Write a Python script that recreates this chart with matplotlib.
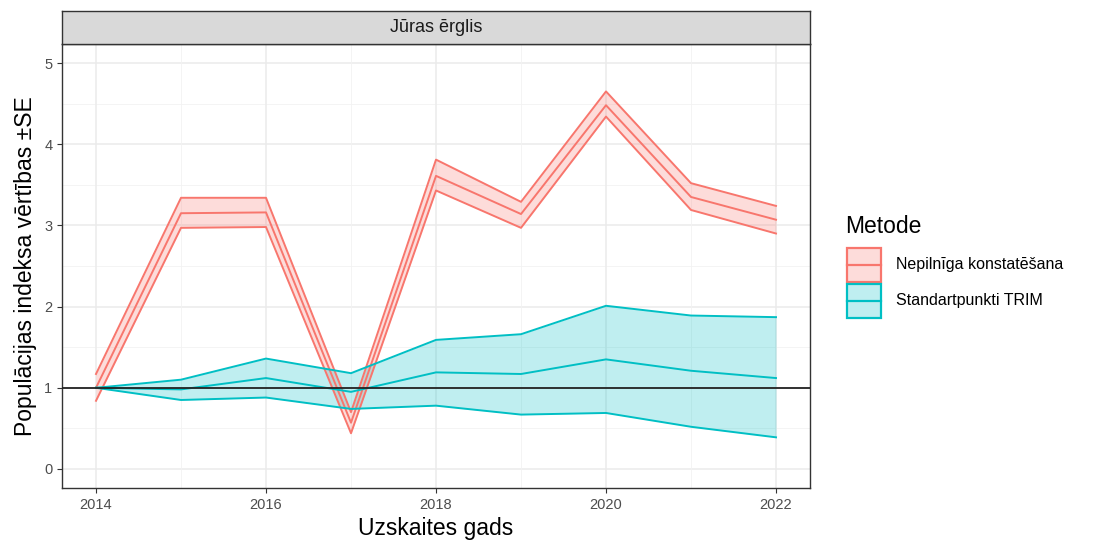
import matplotlib
matplotlib.use("Agg")
import matplotlib.pyplot as plt
from matplotlib.patches import Rectangle
from matplotlib.lines import Line2D
import numpy as np

plt.rcParams['font.family'] = ['Liberation Sans', 'DejaVu Sans']

years = [2014, 2015, 2016, 2017, 2018, 2019, 2020, 2021, 2022]

nep_mean = [1.00, 3.15, 3.16, 0.57, 3.61, 3.14, 4.48, 3.35, 3.07]
nep_upper = [1.17, 3.34, 3.34, 0.70, 3.81, 3.29, 4.65, 3.52, 3.24]
nep_lower = [0.84, 2.97, 2.98, 0.44, 3.43, 2.97, 4.34, 3.19, 2.90]

trim_mean = [1.00, 0.98, 1.12, 0.95, 1.19, 1.17, 1.35, 1.21, 1.12]
trim_upper = [1.00, 1.10, 1.36, 1.18, 1.59, 1.66, 2.01, 1.89, 1.87]
trim_lower = [1.00, 0.85, 0.88, 0.74, 0.78, 0.67, 0.69, 0.52, 0.39]

series_names = ["Nepilnīga konstatēšana", "Standartpunkti TRIM"]
colors = ["#F8766D", "#00BFC4"]

W, H = 1094, 548
fig = plt.figure(figsize=(W / 100, H / 100), dpi=100)

def fx(px):
    return px / W

def fy(py):
    return 1 - py / H

px0, px1 = 62, 810
py_top, py_bot = 44, 488
ax = fig.add_axes([fx(px0), fy(py_bot), (px1 - px0) / W, (py_bot - py_top) / H])

ax.set_xlim(2013.6, 2022.4)
ax.set_ylim(-0.234, 5.234)

# grid
for v in np.arange(0, 5.01, 1):
    ax.axhline(v, color="#EBEBEB", lw=1.1, zorder=0)
for v in np.arange(0.5, 5.01, 1):
    ax.axhline(v, color="#F2F2F2", lw=0.6, zorder=0)
for v in range(2014, 2023, 2):
    ax.axvline(v, color="#EBEBEB", lw=1.1, zorder=0)
for v in range(2015, 2023, 2):
    ax.axvline(v, color="#F2F2F2", lw=0.6, zorder=0)

data = [(nep_mean, nep_lower, nep_upper), (trim_mean, trim_lower, trim_upper)]
for (m, lo, up), c in zip(data, colors):
    ax.fill_between(years, lo, up, color=c, alpha=0.25, lw=0, zorder=2)
    ax.plot(years, lo, color=c, lw=1.4, zorder=3)
    ax.plot(years, up, color=c, lw=1.4, zorder=3)
    ax.plot(years, m, color=c, lw=1.4, zorder=3)

ax.axhline(1, color="#222222", lw=1.3, zorder=4)

ax.set_xticks(range(2014, 2023, 2))
ax.set_yticks(range(0, 6))
ax.tick_params(axis="both", colors="#333333", labelcolor="#4D4D4D", labelsize=10.5, length=3.5, width=0.8)
for s in ax.spines.values():
    s.set_color("#333333")
    s.set_linewidth(1.0)

ax.set_xlabel("Uzskaites gads", fontsize=16.5, color="black", labelpad=4)
ax.set_ylabel("Populācijas indeksa vērtības ±SE", fontsize=16.5, color="black", labelpad=5)

# strip
sax = fig.add_axes([fx(px0), fy(py_top), (px1 - px0) / W, (py_top - 11) / H])
sax.set_xticks([]); sax.set_yticks([])
sax.set_facecolor("#D9D9D9")
for s in sax.spines.values():
    s.set_color("#333333")
    s.set_linewidth(1.0)
sax.text(0.5, 0.5, "Jūras ērglis", ha="center", va="center", fontsize=13, color="#1A1A1A", transform=sax.transAxes)

# legend (drawn manually, ggplot style)
fig.text(fx(845), fy(233), "Metode", fontsize=16.5, ha="left", va="baseline", color="black")
key_x0, key_x1 = 847, 881
key_tops = [248, 284]
key_h = 34
for name, c, top in zip(series_names, colors, key_tops):
    fig.add_artist(Rectangle((fx(key_x0), fy(top + key_h)), (key_x1 - key_x0) / W, key_h / H,
                             transform=fig.transFigure, facecolor=matplotlib.colors.to_rgba(c, 0.25),
                             edgecolor=c, lw=1.6))
    ymid = top + key_h / 2
    fig.add_artist(Line2D([fx(key_x0), fx(key_x1)], [fy(ymid), fy(ymid)], transform=fig.transFigure,
                          color=c, lw=1.6))
    fig.text(fx(896), fy(ymid), name, fontsize=11.5, ha="left", va="center", color="black")

fig.savefig("out.png", dpi=100)
